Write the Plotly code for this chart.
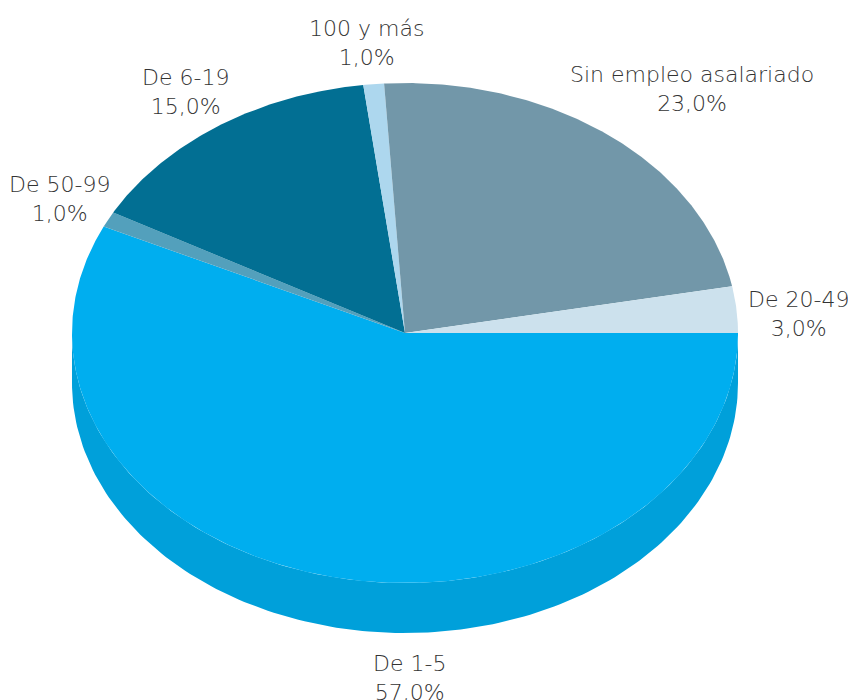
import numpy as np
import plotly.graph_objects as go

categories = ["De 1-5", "De 50-99", "De 6-19", "100 y más", "Sin empleo asalariado", "De 20-49"]
values = [57, 1, 15, 1, 23, 3]
value_labels = ["57,0%", "1,0%", "15,0%", "1,0%", "23,0%", "3,0%"]
colors = ["#00AEEF", "#53A0BC", "#026F93", "#ADD7EE", "#7297A9", "#CCE1ED"]
side_color = "#00A0DA"
text_color = "#333333"
label_px = [(409, 678), (59, 199.5), (185, 91.5), (366, 42.5), (692, 88.5), (798, 313.5)]

W, H = 848, 700
CX, CY, RX, RY, DEPTH = 405, 333, 333, 250, 50
FONT = dict(family="DejaVu Sans", size=22, color=text_color, weight=300)


def arc(t0, t1, n=160):
    t = np.radians(np.linspace(t0, t1, n))
    return np.cos(t), -np.sin(t)


fig = go.Figure()

# Side wall of the front slice
xs, ys = arc(0, 180)
fig.add_trace(go.Scatter(
    x=np.r_[xs, xs[::-1]], y=np.r_[ys - DEPTH / RY, ys[::-1]],
    fill="toself", fillcolor=side_color, mode="lines", line=dict(width=0),
    hoverinfo="skip", showlegend=False,
))

start = 0.0
for cat, v, c in zip(categories, values, colors):
    end = start + v / sum(values) * 360
    xs, ys = arc(start, end, max(int(v * 8), 12))
    fig.add_trace(go.Scatter(
        x=np.r_[0, xs, 0], y=np.r_[0, ys, 0],
        fill="toself", fillcolor=c, mode="lines", line=dict(width=0),
        name=cat, showlegend=False,
    ))
    start = end

for cat, lab, (px, py) in zip(categories, value_labels, label_px):
    fig.add_annotation(
        x=px / W, y=1 - py / H, xref="paper", yref="paper",
        text=f"{cat}<br>{lab}", showarrow=False, align="center",
        xanchor="center", yanchor="middle", font=FONT,
    )

fig.update_xaxes(range=[-CX / RX, (W - CX) / RX], visible=False)
fig.update_yaxes(range=[(CY - H) / RY, CY / RY], visible=False)
fig.update_layout(
    width=W, height=H, margin=dict(l=0, r=0, t=0, b=0),
    paper_bgcolor="white", plot_bgcolor="white", showlegend=False,
)
fig.write_html("out.html", config=dict(displayModeBar=False),
               post_script="document.body.style.margin='0';document.body.style.overflow='hidden';")
